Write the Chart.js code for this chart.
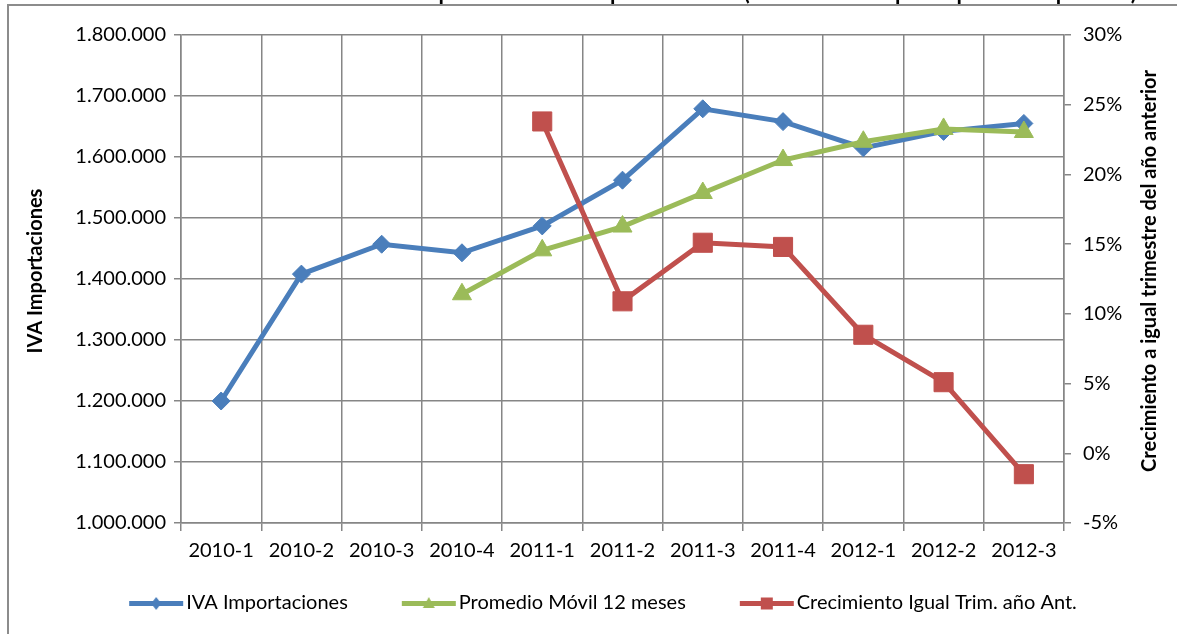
<!DOCTYPE html>
<html>
<head>
<meta charset="utf-8">
<script src="https://cdn.jsdelivr.net/npm/chart.js@4.4.1/dist/chart.umd.min.js"></script>
<style>
  html, body { margin: 0; padding: 0; background: #fff; }
  #wrap { position: relative; width: 1177px; height: 634px; }
</style>
</head>
<body>
<div id="wrap"><canvas id="grafico" width="1177" height="634"></canvas></div>
<script>
// Datos (trimestres)
const trimestres = ['2010-1', '2010-2', '2010-3', '2010-4', '2011-1', '2011-2',
    '2011-3', '2011-4', '2012-1', '2012-2', '2012-3'];
const ivaImportaciones = [1200000, 1408000, 1457000, 1443000, 1487000, 1562000,
    1679000, 1658000, 1615000, 1642000, 1655000];
const promedioMovil = [null, null, null, 1375000, 1447000, 1486000,
    1541000, 1595000, 1625000, 1646000, 1641000];
const crecimiento = [null, null, null, null, 23.8, 10.9,
    15.1, 14.8, 8.5, 5.1, -1.5];

// Ejes
const ejeIzq = { min: 1000000, max: 1800000, paso: 100000 };
const ejeDer = { min: -5, max: 30, paso: 5 };

const titulo = 'Recaudación IVA Importaciones total por trimestre (en millones de pesos promedio período)';
const tituloIzq = 'IVA Importaciones';
const tituloDer = 'Crecimiento a igual trimestre del año anterior';

const AZUL = '#4A7EBB';
const VERDE = '#9BBB59';
const ROJO = '#C0504D';
const GRIS = '#868686';
const FUENTE = 'Lato, "Open Sans", sans-serif';

function puntos(n) {
    return String(n).replace(/\B(?=(\d{3})+(?!\d))/g, '.');
}

// Icono de leyenda: línea con marcador (alineada a la derecha del lienzo)
function iconoLeyenda(color, forma) {
    const c = document.createElement('canvas');
    c.width = 92; c.height = 16;
    const g = c.getContext('2d');
    const x0 = 36, cx = x0 + 28;
    g.fillStyle = color;
    g.fillRect(x0 + 1, 6, 54, 5);
    g.beginPath();
    if (forma === 'rombo') {
        g.moveTo(cx, 2); g.lineTo(cx + 5, 8.5); g.lineTo(cx, 15); g.lineTo(cx - 5, 8.5);
    } else if (forma === 'triangulo') {
        g.moveTo(cx, 2); g.lineTo(cx + 6, 13); g.lineTo(cx - 6, 13);
    } else {
        g.rect(cx - 6, 2.5, 12, 12);
    }
    g.closePath();
    g.fill();
    return c;
}

const marcoYTextos = {
    id: 'marcoYTextos',
    afterDraw(chart) {
        const ctx = chart.ctx;
        const area = chart.chartArea;
        ctx.save();
        // marco
        ctx.strokeStyle = '#8C8C8C';
        ctx.lineWidth = 2;
        ctx.beginPath();
        ctx.moveTo(8, 634); ctx.lineTo(8, 5); ctx.lineTo(1177, 5);
        ctx.stroke();
        // título (recortado arriba, como en la imagen)
        ctx.fillStyle = '#000';
        ctx.font = 'bold 22px ' + FUENTE;
        ctx.textAlign = 'center';
        ctx.textBaseline = 'alphabetic';
        ctx.fillText(titulo, 690, 0);
        // títulos de ejes
        const cy = (area.top + area.bottom) / 2 - 8;
        ctx.font = 'bold 20px ' + FUENTE;
        ctx.textBaseline = 'middle';
        ctx.translate(36, cy);
        ctx.rotate(-Math.PI / 2);
        ctx.fillText(tituloIzq, 0, 0);
        ctx.rotate(Math.PI / 2);
        ctx.translate(1150 - 36, 0);
        ctx.rotate(-Math.PI / 2);
        ctx.fillText(tituloDer, 0, 0);
        ctx.restore();
    }
};

const ctx = document.getElementById('grafico').getContext('2d');
new Chart(ctx, {
    type: 'line',
    data: {
        labels: trimestres,
        datasets: [
            {
                label: 'IVA Importaciones',
                data: ivaImportaciones,
                yAxisID: 'y',
                borderColor: AZUL,
                backgroundColor: AZUL,
                borderWidth: 5,
                pointStyle: 'rectRot',
                pointRadius: 9,
                pointBorderWidth: 1,
                order: 2,
                icono: iconoLeyenda(AZUL, 'rombo')
            },
            {
                label: 'Promedio Móvil 12 meses',
                data: promedioMovil,
                yAxisID: 'y',
                borderColor: VERDE,
                backgroundColor: VERDE,
                borderWidth: 5,
                pointStyle: 'triangle',
                pointRadius: 11,
                pointBorderWidth: 1,
                order: 1,
                icono: iconoLeyenda(VERDE, 'triangulo')
            },
            {
                label: 'Crecimiento Igual Trim. año Ant.',
                data: crecimiento,
                yAxisID: 'y1',
                borderColor: ROJO,
                backgroundColor: ROJO,
                borderWidth: 5,
                pointStyle: 'rect',
                pointRadius: 13.5,
                pointBorderWidth: 1,
                order: 0,
                icono: iconoLeyenda(ROJO, 'cuadrado')
            }
        ]
    },
    options: {
        responsive: false,
        animation: false,
        layout: { padding: { top: 35, left: 0, right: 0, bottom: 11 } },
        plugins: {
            tooltip: { enabled: false },
            legend: {
                position: 'bottom',
                labels: {
                    usePointStyle: true,
                    pointStyleWidth: 76,
                    padding: 25,
                    color: '#000',
                    font: { family: FUENTE, size: 20 },
                    generateLabels(chart) {
                        return chart.data.datasets.map((ds, i) => ({
                            text: ds.label,
                            pointStyle: ds.icono,
                            fillStyle: ds.borderColor,
                            strokeStyle: ds.borderColor,
                            lineWidth: 0,
                            hidden: false,
                            datasetIndex: i
                        }));
                    }
                }
            }
        },
        scales: {
            x: {
                offset: true,
                grid: { offset: true, color: GRIS, lineWidth: 1.5, tickLength: 8 },
                border: { color: GRIS, width: 1.5 },
                ticks: { color: '#000', padding: 8, maxRotation: 0, font: { family: FUENTE, size: 20 } },
                afterFit(scale) { scale.height = 45; }
            },
            y: {
                position: 'left',
                min: ejeIzq.min,
                max: ejeIzq.max,
                grid: { color: GRIS, lineWidth: 1.5, tickLength: 7 },
                border: { color: GRIS, width: 1.5 },
                ticks: {
                    stepSize: ejeIzq.paso,
                    color: '#000',
                    padding: 8,
                    font: { family: FUENTE, size: 20 },
                    callback: v => puntos(v)
                },
                afterFit(scale) { scale.width = 181; }
            },
            y1: {
                position: 'right',
                min: ejeDer.min,
                max: ejeDer.max,
                grid: { drawOnChartArea: false, color: GRIS, lineWidth: 1.5, tickLength: 7 },
                border: { color: GRIS, width: 1.5 },
                ticks: {
                    stepSize: ejeDer.paso,
                    color: '#000',
                    padding: 12,
                    font: { family: FUENTE, size: 20 },
                    callback: v => v + '%'
                },
                afterFit(scale) { scale.width = 113; }
            }
        }
    },
    plugins: [marcoYTextos]
});
</script>
</body>
</html>
